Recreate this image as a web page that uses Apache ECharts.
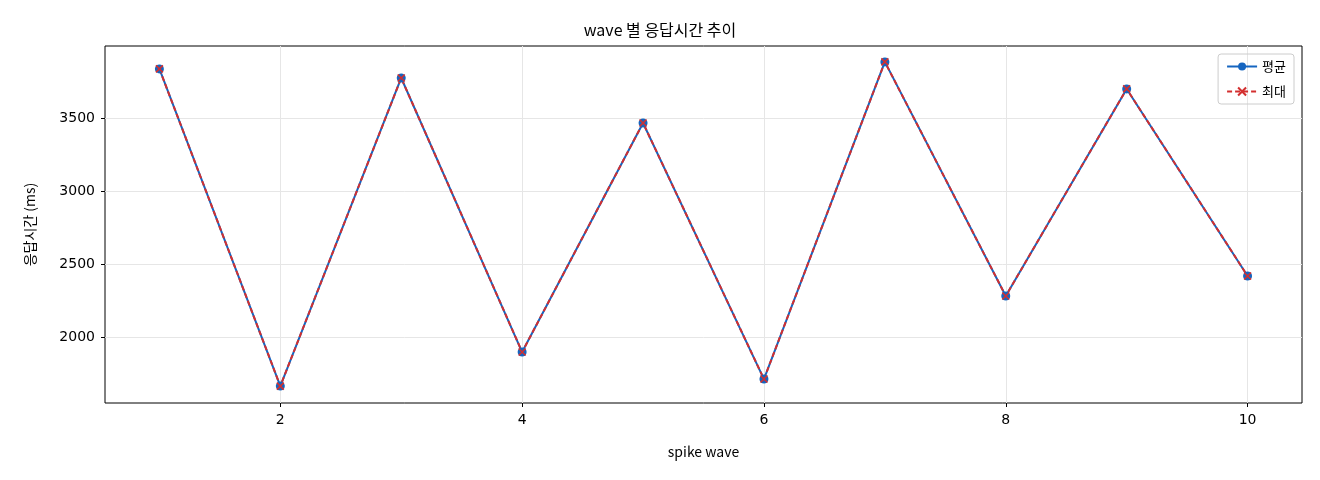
<!DOCTYPE html>
<html><head><meta charset="utf-8">
<script src="https://cdn.jsdelivr.net/npm/echarts@6/dist/echarts.min.js"></script>
<style>html,body{margin:0;background:#fff}#c{width:1320px;height:480px}</style>
</head><body><div id="c"></div>
<script>
const waves=[1,2,3,4,5,6,7,8,9,10];
const avgVals=[3836,1664,3774,1897,3466,1712,3884,2281,3699,2418];
const maxVals=[3836,1664,3774,1897,3466,1712,3884,2281,3699,2418];
const xTicks=[2,4,6,8,10];
const yTicks=[2000,2500,3000,3500];
const F='"Noto Sans CJK KR","DejaVu Sans",sans-serif';
const X='path://M0,0L10,10M10,0L0,10';
const chart=echarts.init(document.getElementById('c'));
chart.setOption({
 animation:false,
 title:{text:'wave 별 응답시간 추이',left:'center',top:17,textStyle:{fontFamily:F,fontSize:16,fontWeight:'normal',color:'#000'}},
 grid:{left:105,right:18,top:46,bottom:77,show:true,borderColor:'#000',borderWidth:1},
 legend:{right:26,top:54,orient:'vertical',itemWidth:30,itemHeight:10,itemGap:12,padding:[6,8],borderColor:'#ccc',borderWidth:1,borderRadius:3,
  textStyle:{fontFamily:F,fontSize:13,color:'#000'},data:['평균','최대']},
 xAxis:{type:'value',min:0.55,max:10.45,name:'spike wave',nameLocation:'middle',nameGap:42,nameTextStyle:{fontFamily:F,fontSize:14,color:'#000'},
  axisLine:{show:false},axisTick:{show:true,customValues:xTicks,length:4,lineStyle:{color:'#000'}},
  axisLabel:{customValues:xTicks,fontFamily:'"DejaVu Sans",sans-serif',fontSize:14,color:'#000',margin:10},
  splitLine:{show:true,lineStyle:{color:'#e6e6e6'}}},
 yAxis:{type:'value',min:1548,max:3993,name:'응답시간 (ms)',nameLocation:'middle',nameGap:68,nameTextStyle:{fontFamily:F,fontSize:14,color:'#000'},
  axisLine:{show:false},axisTick:{show:true,customValues:yTicks,length:4,lineStyle:{color:'#000'}},
  axisLabel:{customValues:yTicks,formatter:v=>String(v),fontFamily:'"DejaVu Sans",sans-serif',fontSize:14,color:'#000',margin:10},
  splitLine:{show:true,lineStyle:{color:'#e6e6e6'}}},
 series:[
  {name:'평균',type:'line',data:waves.map((w,i)=>[w,avgVals[i]]),symbol:'circle',symbolSize:9,itemStyle:{color:'#1565c0'},lineStyle:{color:'#1565c0',width:2}},
  {name:'최대',type:'line',data:waves.map((w,i)=>[w,maxVals[i]]),symbol:X,symbolSize:7,itemStyle:{color:'#d32f2f',borderColor:'#d32f2f',borderWidth:1.6},lineStyle:{color:'#d32f2f',width:2,type:[5,3]}}
 ]
});
</script></body></html>
